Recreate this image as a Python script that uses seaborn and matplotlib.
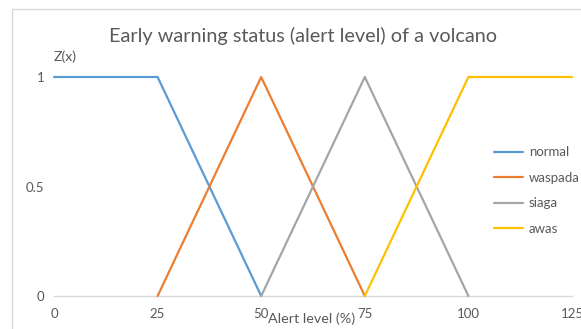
import matplotlib
matplotlib.use("Agg")
import matplotlib.pyplot as plt
import seaborn as sns
import pandas as pd
from matplotlib.patches import Rectangle

# Membership functions of the volcano alert status
normal_x = [0, 25, 50]
normal_y = [1, 1, 0]
waspada_x = [25, 50, 75]
waspada_y = [0, 1, 0]
siaga_x = [50, 75, 100]
siaga_y = [0, 1, 0]
awas_x = [75, 100, 125]
awas_y = [0, 1, 1]

series_names = ["normal", "waspada", "siaga", "awas"]
series_colors = ["#5B9BD5", "#ED7D31", "#A5A5A5", "#FFC000"]
x_ticks = [0, 25, 50, 75, 100, 125]
y_ticks = [0, 0.5, 1]
y_tick_labels = ["0", "0.5", "1"]

frames = []
for name, xs, ys in zip(series_names,
                        [normal_x, waspada_x, siaga_x, awas_x],
                        [normal_y, waspada_y, siaga_y, awas_y]):
    frames.append(pd.DataFrame({"level": xs, "z": ys, "status": name}))
df = pd.concat(frames, ignore_index=True)

sns.set_style("white")
plt.rcParams["font.family"] = ["Lato", "DejaVu Sans"]

W, H = 581, 329
fig = plt.figure(figsize=(W / 100, H / 100), dpi=100)
ax = fig.add_axes([54 / W, 1 - 296 / H, (572 - 54) / W, (296 - 77) / H])

sns.lineplot(data=df, x="level", y="z", hue="status", hue_order=series_names,
             palette=series_colors, sort=False, estimator=None, linewidth=1.6,
             ax=ax, legend=True, clip_on=False)

ax.set_xlim(0, 125)
ax.set_ylim(0, 1)
ax.set_xticks(x_ticks)
ax.set_yticks(y_ticks)
ax.set_yticklabels(y_tick_labels)
ax.set_xlabel("")
ax.set_ylabel("")
ax.tick_params(axis="both", length=0, labelsize=9.5, labelcolor="#595959")
ax.tick_params(axis="y", pad=7)
ax.tick_params(axis="x", pad=9)
for side in ["left", "right", "top"]:
    ax.spines[side].set_visible(False)
ax.spines["bottom"].set_color("#D9D9D9")
ax.spines["bottom"].set_linewidth(1.0)
ax.spines["bottom"].set_zorder(0)
ax.set_facecolor("none")

leg = ax.legend(loc="center left", bbox_to_anchor=(494 / W, 1 - 190.5 / H),
                bbox_transform=fig.transFigure, frameon=False, fontsize=9.5,
                handlelength=2.2, handletextpad=0.45, labelspacing=1.02,
                borderpad=0, borderaxespad=0)
for t in leg.get_texts():
    t.set_color("#595959")

fig.text(303 / W, 1 - 36 / H, "Early warning status (alert level) of a volcano",
         ha="center", va="center", fontsize=14.3, color="#595959")
fig.text(54 / W, 1 - 57 / H, "Z(x)", ha="left", va="center", fontsize=10.2,
         color="#595959")
fig.text(268 / W, 1 - 319 / H, "Alert level (%)", ha="left", va="center",
         fontsize=10.4, color="#595959")

# Chart frame
fig.patches.append(Rectangle((11.5 / W, -0.1), 1.2, 1.1 - 9.5 / H,
                             transform=fig.transFigure, fill=False,
                             edgecolor="#D9D9D9", linewidth=1.0))

fig.savefig("out.png", dpi=100, facecolor="white")
